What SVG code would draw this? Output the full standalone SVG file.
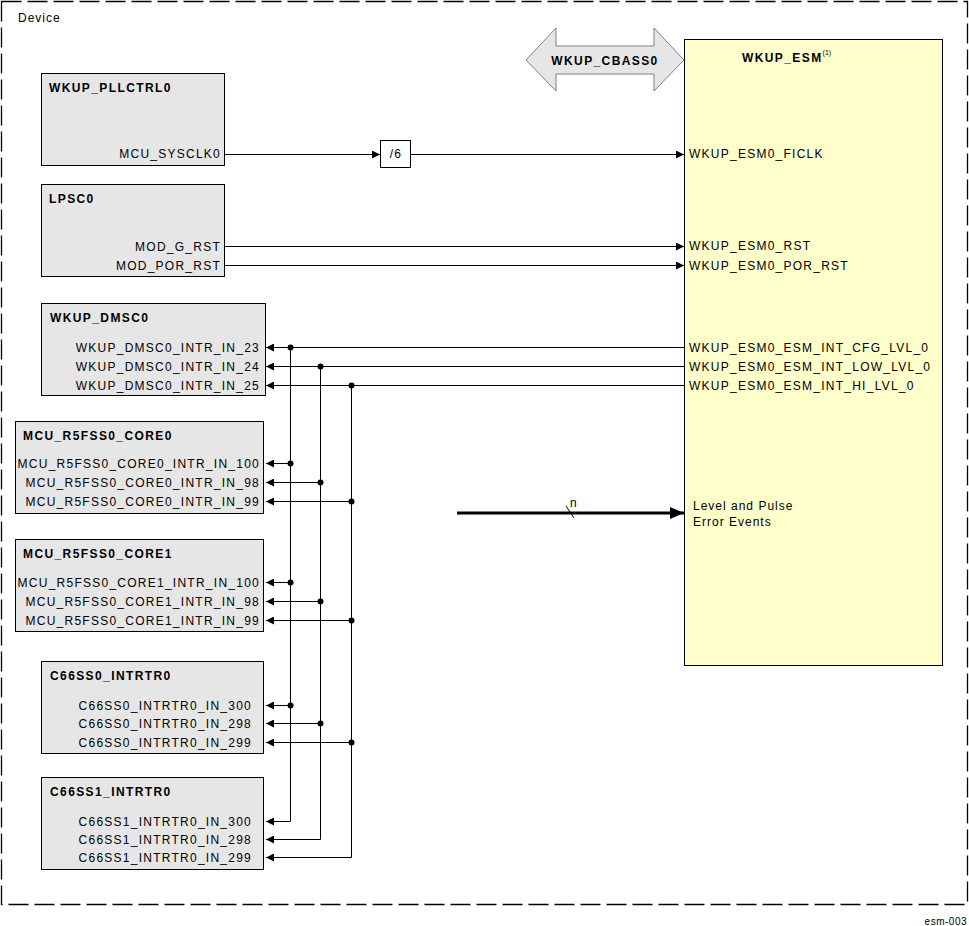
<svg xmlns="http://www.w3.org/2000/svg" width="969" height="926" viewBox="0 0 969 926">
<defs>
<marker id="ah" viewBox="0 0 8 8" refX="8" refY="4" markerWidth="8" markerHeight="8" markerUnits="userSpaceOnUse" orient="auto"><path d="M0,0 L8,4 L0,8 Z" fill="#000"/></marker>
<marker id="ahb" viewBox="0 0 14 12" refX="14" refY="6" markerWidth="14" markerHeight="12" markerUnits="userSpaceOnUse" orient="auto"><path d="M0,0 L14,6 L0,12 Z" fill="#000"/></marker>
</defs>
<style>
text{font-family:"Liberation Sans",Arial,sans-serif;font-size:12px;letter-spacing:1.25px;fill:#000}
.t{font-weight:bold;letter-spacing:1.4px}
.r{text-anchor:end}
.box{fill:#e6e6e6;stroke:#000;stroke-width:1}
.esm{fill:#ffffcc;stroke:#000;stroke-width:1}
.w{fill:none;stroke:#000;stroke-width:1}
.dot{fill:#000}
</style>
<rect x="1.5" y="1.5" width="966" height="903" fill="none" stroke="#000" stroke-width="1.3" stroke-dasharray="20 6"/>
<text x="18" y="22" style="letter-spacing:1px">Device</text>
<text x="967" y="925" class="r" style="font-size:10px;letter-spacing:0.5px">esm-003</text>

<g id="wkup_esm">
<rect class="esm" x="684.5" y="39.5" width="258" height="626"/>
<text x="742" y="62" class="t">WKUP_ESM<tspan dy="-7" style="font-size:7px;font-weight:normal;letter-spacing:0">(1)</tspan></text>
<text x="689" y="158">WKUP_ESM0_FICLK</text>
<text x="689" y="250">WKUP_ESM0_RST</text>
<text x="689" y="270">WKUP_ESM0_POR_RST</text>
<text x="689" y="352">WKUP_ESM0_ESM_INT_CFG_LVL_0</text>
<text x="689" y="371">WKUP_ESM0_ESM_INT_LOW_LVL_0</text>
<text x="689" y="390">WKUP_ESM0_ESM_INT_HI_LVL_0</text>
<text x="693" y="510" style="letter-spacing:1px">Level and Pulse</text>
<text x="693" y="526" style="letter-spacing:1px">Error Events</text>
</g>

<g id="wkup_cbass0">
<polygon points="526,60 556,28 556,46 654,46 654,28 684,60 654,91 654,74 556,74 556,91" fill="#e6e6e6" stroke="#808080" stroke-width="1"/>
<text x="605" y="65" class="t" text-anchor="middle">WKUP_CBASS0</text>
</g>

<g id="wkup_pllctrl0">
<rect class="box" x="41.5" y="73.5" width="183" height="92"/>
<text x="49" y="92" class="t">WKUP_PLLCTRL0</text>
<text x="221" y="158" class="r">MCU_SYSCLK0</text>
</g>

<g id="div6">
<rect x="380.5" y="140.5" width="30" height="27" fill="#fff" stroke="#000"/>
<text x="396" y="158" text-anchor="middle">/6</text>
</g>

<g id="lpsc0">
<rect class="box" x="41.5" y="184.5" width="183" height="92"/>
<text x="49" y="203" class="t">LPSC0</text>
<text x="221" y="251" class="r">MOD_G_RST</text>
<text x="221" y="270" class="r">MOD_POR_RST</text>
</g>

<g id="wkup_dmsc0">
<rect class="box" x="41.5" y="303.5" width="224" height="92"/>
<text x="50" y="322" class="t">WKUP_DMSC0</text>
<text x="260" y="352" class="r">WKUP_DMSC0_INTR_IN_23</text>
<text x="260" y="371" class="r">WKUP_DMSC0_INTR_IN_24</text>
<text x="260" y="390" class="r">WKUP_DMSC0_INTR_IN_25</text>
</g>

<g id="mcu_r5fss0_core0">
<rect class="box" x="15.5" y="421.5" width="248" height="92"/>
<text x="23" y="440" class="t">MCU_R5FSS0_CORE0</text>
<text x="260" y="468" class="r">MCU_R5FSS0_CORE0_INTR_IN_100</text>
<text x="260" y="487" class="r">MCU_R5FSS0_CORE0_INTR_IN_98</text>
<text x="260" y="506" class="r">MCU_R5FSS0_CORE0_INTR_IN_99</text>
</g>

<g id="mcu_r5fss0_core1">
<rect class="box" x="15.5" y="539.5" width="248" height="92"/>
<text x="23" y="558" class="t">MCU_R5FSS0_CORE1</text>
<text x="260" y="587" class="r">MCU_R5FSS0_CORE1_INTR_IN_100</text>
<text x="260" y="606" class="r">MCU_R5FSS0_CORE1_INTR_IN_98</text>
<text x="260" y="625" class="r">MCU_R5FSS0_CORE1_INTR_IN_99</text>
</g>

<g id="c66ss0_intrtr0">
<rect class="box" x="41.5" y="661.5" width="222" height="92"/>
<text x="50" y="680" class="t">C66SS0_INTRTR0</text>
<text x="252" y="710" class="r">C66SS0_INTRTR0_IN_300</text>
<text x="252" y="728" class="r">C66SS0_INTRTR0_IN_298</text>
<text x="252" y="747" class="r">C66SS0_INTRTR0_IN_299</text>
</g>

<g id="c66ss1_intrtr0">
<rect class="box" x="41.5" y="777.5" width="222" height="92"/>
<text x="50" y="796" class="t">C66SS1_INTRTR0</text>
<text x="252" y="826" class="r">C66SS1_INTRTR0_IN_300</text>
<text x="252" y="844" class="r">C66SS1_INTRTR0_IN_298</text>
<text x="252" y="862" class="r">C66SS1_INTRTR0_IN_299</text>
</g>

<g id="connectors">
<path class="w" d="M225,154.5 H380" marker-end="url(#ah)"/>
<path class="w" d="M411,154.5 H684" marker-end="url(#ah)"/>
<path class="w" d="M225,246.5 H684" marker-end="url(#ah)"/>
<path class="w" d="M225,265.5 H684" marker-end="url(#ah)"/>
<path class="w" d="M684,347.5 H266" marker-end="url(#ah)"/>
<path class="w" d="M684,366.5 H266" marker-end="url(#ah)"/>
<path class="w" d="M684,385.5 H266" marker-end="url(#ah)"/>
<path class="w" d="M290.5,347 V821.5 H266" marker-end="url(#ah)"/>
<path class="w" d="M320.5,366 V839.5 H266" marker-end="url(#ah)"/>
<path class="w" d="M351.5,385 V857.5 H266" marker-end="url(#ah)"/>
<path class="w" d="M290,463.5 H266" marker-end="url(#ah)"/>
<path class="w" d="M320,482.5 H266" marker-end="url(#ah)"/>
<path class="w" d="M351,501.5 H266" marker-end="url(#ah)"/>
<path class="w" d="M290,582.5 H266" marker-end="url(#ah)"/>
<path class="w" d="M320,601.5 H266" marker-end="url(#ah)"/>
<path class="w" d="M351,620.5 H266" marker-end="url(#ah)"/>
<path class="w" d="M290,705.5 H266" marker-end="url(#ah)"/>
<path class="w" d="M320,723.5 H266" marker-end="url(#ah)"/>
<path class="w" d="M351,742.5 H266" marker-end="url(#ah)"/>
<g class="dot">
<circle cx="290.5" cy="347.5" r="3"/><circle cx="320.5" cy="366.5" r="3"/><circle cx="351.5" cy="385.5" r="3"/>
<circle cx="290.5" cy="463.5" r="3"/><circle cx="320.5" cy="482.5" r="3"/><circle cx="351.5" cy="501.5" r="3"/>
<circle cx="290.5" cy="582.5" r="3"/><circle cx="320.5" cy="601.5" r="3"/><circle cx="351.5" cy="620.5" r="3"/>
<circle cx="290.5" cy="705.5" r="3"/><circle cx="320.5" cy="723.5" r="3"/><circle cx="351.5" cy="742.5" r="3"/>
</g>
<path d="M457,513 H684" fill="none" stroke="#000" stroke-width="3" marker-end="url(#ahb)"/>
<path class="w" d="M566,506 L574,518"/>
<text x="570" y="507">n</text>
</g>
</svg>
